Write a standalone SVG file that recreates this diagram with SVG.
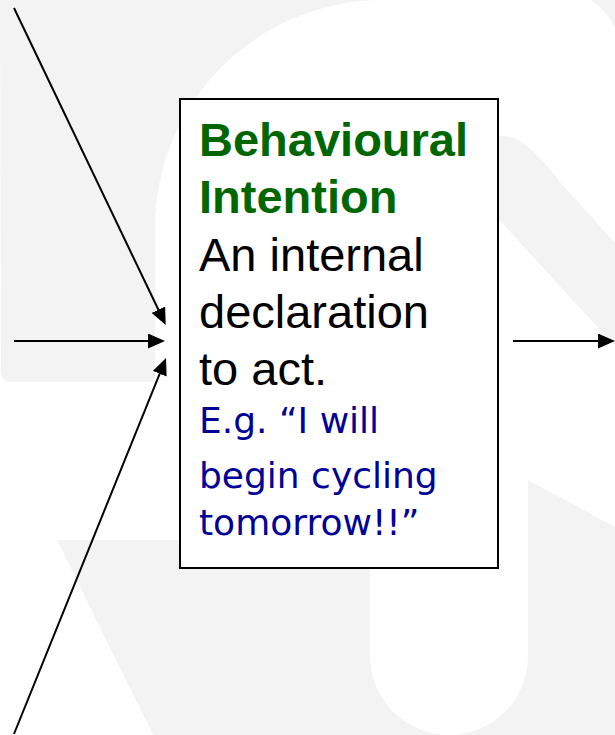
<svg xmlns="http://www.w3.org/2000/svg" width="615" height="735" viewBox="0 0 615 735">
<style>
.bg{fill:#f3f3f3;stroke:none}
.conn{stroke:#000;stroke-width:2;fill:none;marker-end:url(#ah)}
.title{font-family:"Liberation Sans",Arial,sans-serif;font-weight:bold;font-size:47px;fill:#006600}
.body{font-family:"Liberation Sans",Arial,sans-serif;font-size:47px;fill:#000}
.ex{font-family:"DejaVu Sans",Verdana,sans-serif;font-size:36px;fill:#000099}
</style>
<defs>
<marker id="ah" markerUnits="userSpaceOnUse" markerWidth="17" markerHeight="15" refX="14" refY="7.5" orient="auto">
<path d="M0,0 L17,7.5 L0,15 Z" fill="#000"/>
</marker>
</defs>
<rect width="615" height="735" fill="#fff"/>
<g id="watermark">
<path class="bg" d="M0,0 H383 A228,228 0 0 0 155,228 V382 H10 Q2,382 1,372 Z"/>
<path class="bg" d="M590,0 H615 V28 Q605,8 590,0 Z"/>
<path class="bg" d="M490,140 Q500,134 512,137 Q532,145 560,182 L615,243 V345 L603,333 L490,210 Z"/>
<path class="bg" d="M57,540 H370 V656 A79,79 0 0 0 528,656 V480 L615,527 V735 H153 Z"/>
</g>
<g id="connectors">
<path class="conn" d="M14,8 L164.4,322.3"/>
<path class="conn" d="M14,341 L162,341"/>
<path class="conn" d="M14,734 L164.9,360.8"/>
<path class="conn" d="M513,341 L612,341"/>
</g>
<g id="node-behavioural-intention">
<rect x="180" y="99" width="318" height="469" fill="#fff" stroke="#000" stroke-width="2"/>
<text class="title" x="199" y="156">Behavioural</text>
<text class="title" x="199" y="213">Intention</text>
<text class="body" x="199" y="271">An internal</text>
<text class="body" x="199" y="328">declaration</text>
<text class="body" x="199" y="385">to act.</text>
<text class="ex" x="199" y="433">E.g. “I will</text>
<text class="ex" x="199" y="488">begin cycling</text>
<text class="ex" x="199" y="535">tomorrow!!”</text>
</g>
</svg>
